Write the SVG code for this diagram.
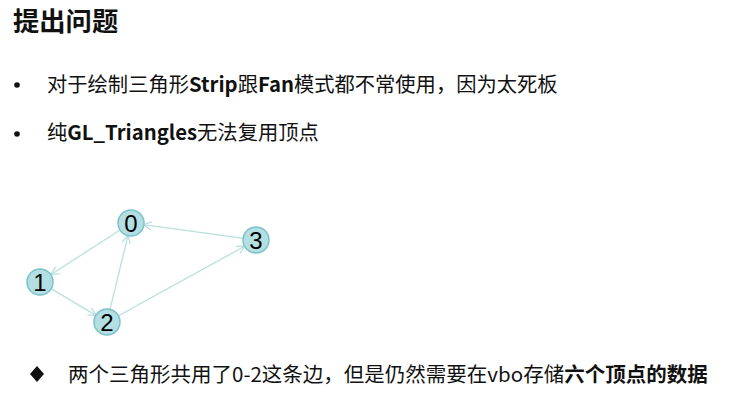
<svg xmlns="http://www.w3.org/2000/svg" width="755" height="419" viewBox="0 0 755 419">
<defs>
<style>
.t{font-family:"Noto Sans CJK SC","Noto Sans",sans-serif;fill:#111;}
.b{font-weight:bold;}
.node circle{fill:#b3dfe3;stroke:#7cc2ca;stroke-width:1.5;}
.node text{font-family:"Liberation Sans",Arial,sans-serif;font-size:24px;fill:#000;text-anchor:middle;}
.edge{stroke:#b9e0de;stroke-width:1.3;fill:none;marker-end:url(#arr);}
</style>
<marker id="arr" viewBox="0 0 10 10" refX="9" refY="5" markerWidth="10" markerHeight="10" markerUnits="userSpaceOnUse" orient="auto">
<polyline points="1,1 9,5 1,9" fill="none" stroke="#b9e0de" stroke-width="1.3"/>
</marker>
</defs>
<rect width="755" height="419" fill="#fff"/>
<text id="title" class="t b" x="13" y="31" font-size="26.3">提出问题</text>
<g id="bullet1">
<circle cx="17" cy="85" r="2.8" fill="#111"/>
<text class="t" x="47" y="92" font-size="20.3">对于绘制三角形<tspan class="b">Strip</tspan>跟<tspan class="b">Fan</tspan>模式都不常使用，因为太死板</text>
</g>
<g id="bullet2">
<circle cx="17" cy="134" r="2.8" fill="#111"/>
<text class="t" x="47" y="140" font-size="20.3">纯<tspan class="b">GL_Triangles</tspan>无法复用顶点</text>
</g>
<g id="connectors">
<line class="edge" x1="120.5" y1="229.8" x2="51" y2="274.5"/>
<line class="edge" x1="50.7" y1="288.4" x2="96.3" y2="315.6"/>
<line class="edge" x1="109.9" y1="309.9" x2="128.1" y2="235.1"/>
<line class="edge" x1="118" y1="316" x2="245" y2="246"/>
<line class="edge" x1="243.6" y1="238.3" x2="143.4" y2="224.7"/>
</g>
<g id="node0" class="node"><circle cx="131" cy="223" r="13"/><text x="131" y="231.5">0</text></g>
<g id="node1" class="node"><circle cx="40" cy="282" r="13"/><text x="40" y="290.5">1</text></g>
<g id="node2" class="node"><circle cx="107" cy="322" r="13"/><text x="107" y="330.5">2</text></g>
<g id="node3" class="node"><circle cx="256" cy="240" r="13"/><text x="256" y="248.5">3</text></g>
<g id="note">
<polygon points="37,366 44,374 37,382 30,374" fill="#111"/>
<text class="t" x="68" y="382" font-size="20.5">两个三角形共用了0-2这条边，但是仍然需要在vbo存储<tspan class="b">六个顶点的数据</tspan></text>
</g>
</svg>
